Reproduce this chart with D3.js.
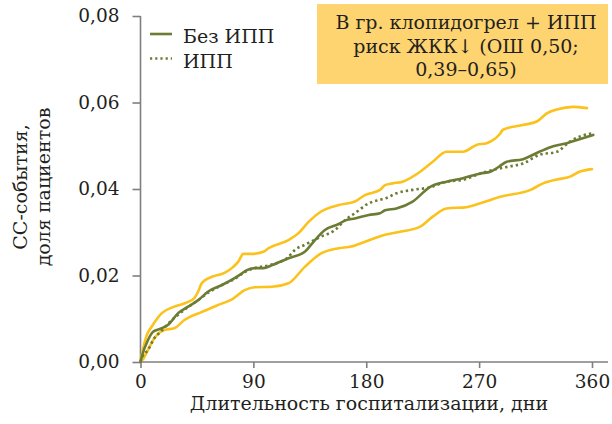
<!DOCTYPE html>
<html>
<head>
<meta charset="utf-8">
<script src="https://cdn.jsdelivr.net/npm/d3@7"></script>
<style>
  html, body { margin: 0; padding: 0; background: #fff; }
  svg { display: block; }
  svg text { font-family: "DejaVu Serif", serif; }
</style>
</head>
<body>
<svg id="chart" width="612" height="424"></svg>
<script>
// Cumulative share of CV events by length of hospital stay (days)
const xTicks = [0, 90, 180, 270, 360];
const yTicks = [0, 0.02, 0.04, 0.06, 0.08];

// No PPI — [day, share]
const noPpi = [
  [0, 0], [1, 0.0012], [6, 0.0051], [10, 0.0070], [17, 0.0078], [22, 0.0086], [30, 0.0113],
  [38, 0.0128], [46, 0.0143], [54, 0.0163], [65, 0.0178], [75, 0.0194], [81, 0.0205],
  [84, 0.0211], [91, 0.0217], [98, 0.0217], [105, 0.0224], [118, 0.0240], [131, 0.0255],
  [138, 0.0278], [147, 0.0305], [158, 0.0319], [164, 0.0328], [171, 0.0332], [182, 0.0340],
  [191, 0.0344], [195, 0.0351], [204, 0.0355], [217, 0.0371], [231, 0.0405], [244, 0.0417],
  [257, 0.0425], [271, 0.0436], [279, 0.0440], [286, 0.0452], [292, 0.0463], [305, 0.0469],
  [318, 0.0486], [329, 0.0499], [340, 0.0506], [350, 0.0515], [361, 0.0525]
];

// PPI — [day, share]
const ppi = [
  [0, 0], [1, 0.0009], [6, 0.0028], [11, 0.0055], [15, 0.0067], [19, 0.0079], [25, 0.0097],
  [30, 0.0109], [38, 0.0127], [46, 0.0143], [55, 0.0162], [65, 0.0178], [75, 0.0192],
  [83, 0.0208], [91, 0.0217], [103, 0.0224], [118, 0.0243], [123, 0.0259], [131, 0.0271],
  [144, 0.0290], [155, 0.0305], [163, 0.0328], [171, 0.0344], [182, 0.0367], [191, 0.0375],
  [195, 0.0378], [204, 0.0390], [217, 0.0398], [231, 0.0404], [244, 0.0417], [257, 0.0421],
  [271, 0.0436], [287, 0.0448], [294, 0.0452], [305, 0.0459], [318, 0.0479], [332, 0.0486],
  [342, 0.0509], [350, 0.0521], [361, 0.0529]
];

// Confidence band, upper edge
const ciUpper = [
  [0, 0.0002], [1, 0.0016], [5, 0.0062], [9, 0.0082], [17, 0.0113], [27, 0.0128], [38, 0.0139],
  [43, 0.0148], [46, 0.0163], [49, 0.0183], [57, 0.0197], [67, 0.0206], [74, 0.0220],
  [78, 0.0232], [82, 0.0250], [89, 0.0250], [98, 0.0255], [102, 0.0263], [118, 0.0282],
  [126, 0.0298], [134, 0.0324], [144, 0.0348], [158, 0.0363], [171, 0.0371], [179, 0.0386],
  [191, 0.0398], [195, 0.0409], [201, 0.0413], [209, 0.0417], [223, 0.0440], [233, 0.0463],
  [244, 0.0486], [257, 0.0486], [268, 0.0502], [276, 0.0506], [287, 0.0529], [289, 0.0537],
  [305, 0.0548], [316, 0.0556], [324, 0.0575], [332, 0.0584], [345, 0.0590], [356, 0.0587]
];

// Confidence band, lower edge
const ciLower = [
  [2, 0.0006], [6, 0.0028], [11, 0.0055], [19, 0.0074], [27, 0.0078], [35, 0.0097],
  [49, 0.0116], [62, 0.0132], [73, 0.0145], [83, 0.0166], [91, 0.0173], [105, 0.0174],
  [118, 0.0182], [131, 0.0220], [144, 0.0251], [158, 0.0263], [168, 0.0267], [179, 0.0278],
  [195, 0.0294], [207, 0.0301], [223, 0.0313], [233, 0.0336], [244, 0.0355], [260, 0.0358],
  [271, 0.0367], [287, 0.0382], [311, 0.0398], [321, 0.0413], [332, 0.0422], [342, 0.0428],
  [350, 0.0440], [360, 0.0446]
];

const legendItems = [
  { label: "Без ИПП", dash: null },
  { label: "ИПП", dash: "2.2,3" }
];
const noteLines = ["В гр. клопидогрел + ИПП", "риск ЖКК↓ (ОШ 0,50;", "0,39–0,65)"];
const xTitle = "Длительность госпитализации, дни";
const yTitle = ["СС-события,", "доля пациентов"];

const GREEN = "#6b7c34";
const YELLOW = "#fbc21c";
const AXIS = "#7f7f7f";
const TEXT = "#231f20";
const FONT = '"DejaVu Serif", serif';

const svg = d3.select("#chart");
const x = d3.scaleLinear().domain([0, 360]).range([140.5, 592]);
const y = d3.scaleLinear().domain([0, 0.08]).range([362, 16]);
const fmt = d => d3.format(".2f")(d).replace(".", ",");

// Axes
const gx = svg.append("g").attr("transform", `translate(0,${y(0)})`)
  .call(d3.axisBottom(x).tickValues(xTicks).tickSize(6).tickPadding(7).tickSizeOuter(0));
const gy = svg.append("g").attr("transform", `translate(${x(0)},0)`)
  .call(d3.axisLeft(y).tickValues(yTicks).tickFormat(fmt).tickSize(8).tickPadding(13).tickSizeOuter(0));
[gx, gy].forEach(g => {
  g.attr("font-family", FONT).attr("font-size", 18.5);
  g.select(".domain").remove();
  g.selectAll(".tick line").attr("stroke", AXIS).attr("stroke-width", 1.6);
  g.selectAll(".tick text").attr("fill", TEXT);
});
svg.append("line").attr("x1", x(0)).attr("x2", x.range()[1] + 16)
  .attr("y1", y(0)).attr("y2", y(0)).attr("stroke", AXIS).attr("stroke-width", 1.6);
svg.append("line").attr("x1", x(0)).attr("x2", x(0))
  .attr("y1", y(0)).attr("y2", y(0.08)).attr("stroke", AXIS).attr("stroke-width", 1.6);

// Curves
const line = d3.line().x(d => x(d[0])).y(d => y(d[1])).curve(d3.curveMonotoneX);
const plot = svg.append("g").attr("fill", "none").attr("stroke-linejoin", "round").attr("stroke-linecap", "round");
plot.append("path").attr("d", line(ciUpper)).attr("stroke", YELLOW).attr("stroke-width", 2.6);
plot.append("path").attr("d", line(ciLower)).attr("stroke", YELLOW).attr("stroke-width", 2.6);
plot.append("path").attr("d", line(noPpi)).attr("stroke", GREEN).attr("stroke-width", 2.6);
plot.append("path").attr("d", line(ppi)).attr("stroke", GREEN).attr("stroke-width", 2.6)
  .attr("stroke-dasharray", "2.4,3").attr("stroke-linecap", "butt");

// Legend
const legend = svg.append("g").attr("transform", "translate(150,34)");
legendItems.forEach((item, i) => {
  const g = legend.append("g").attr("transform", `translate(0,${i * 24.5})`);
  g.append("line").attr("x1", 0).attr("x2", 22).attr("y1", 0).attr("y2", 0)
    .attr("stroke", GREEN).attr("stroke-width", 2.6)
    .attr("stroke-dasharray", item.dash);
  g.append("text").attr("x", 33).attr("y", 9).attr("fill", TEXT)
    .style("font-size", "19px").text(item.label);
});

// Note box
svg.append("rect").attr("x", 317).attr("y", 4).attr("width", 291).attr("height", 80).attr("fill", "#fdd470");
svg.append("g").selectAll("text").data(noteLines).join("text")
  .attr("x", 466).attr("y", (d, i) => 29 + i * 23.5)
  .attr("text-anchor", "middle").attr("fill", TEXT).style("font-size", "19px")
  .text(d => d);

// Axis titles
svg.append("text").attr("x", 369).attr("y", 410).attr("text-anchor", "middle")
  .attr("fill", TEXT).style("font-size", "19px").text(xTitle);
svg.append("g").selectAll("text").data(yTitle).join("text")
  .attr("transform", (d, i) => `translate(${27 + i * 23},187) rotate(-90)`)
  .attr("text-anchor", "middle").attr("fill", TEXT).style("font-size", "19px")
  .text(d => d);
</script>
</body>
</html>
